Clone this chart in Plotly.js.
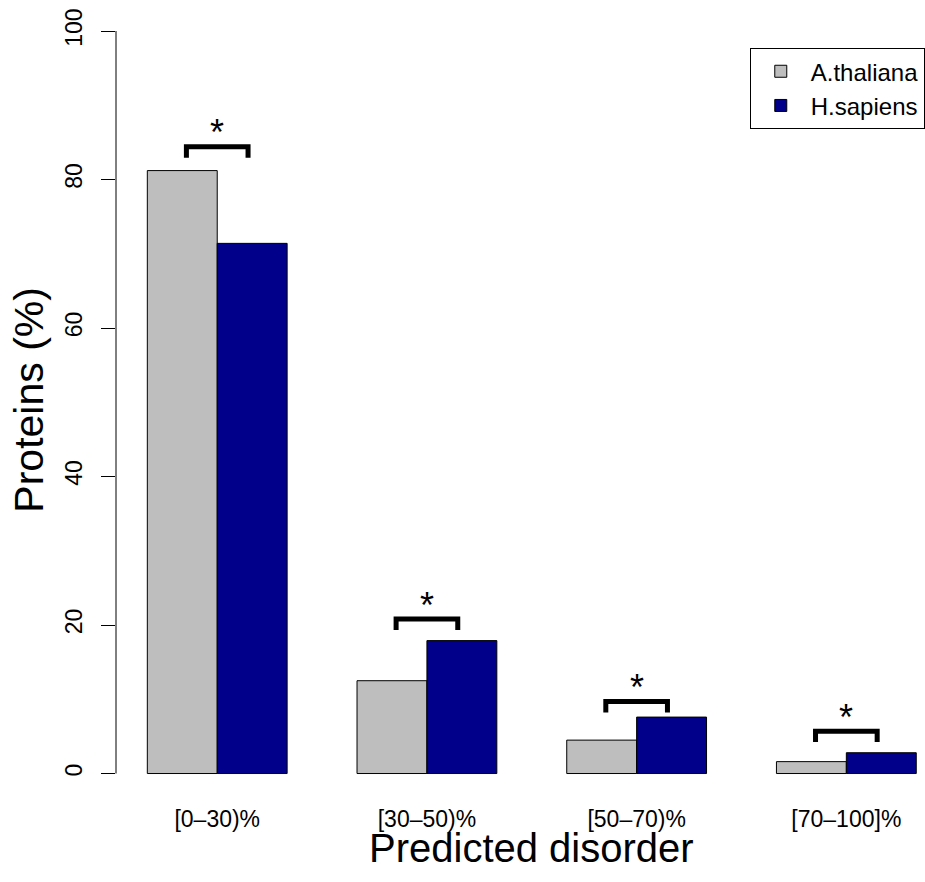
<!DOCTYPE html>
<html><head><meta charset="utf-8">
<script src="https://cdn.plot.ly/plotly-3.0.1.min.js"></script>
<style>html,body{margin:0;padding:0;background:#fff}</style>
</head><body><div id="chart" style="width:925px;height:882px"></div>
<script>
// ---- data ----
const categories = ['[0–30)%', '[30–50)%', '[50–70)%', '[70–100]%'];
const seriesNames = ['A.thaliana', 'H.sapiens'];
const athaliana = [81.2, 12.5, 4.5, 1.6];
const hsapiens = [71.4, 17.9, 7.6, 2.8];
const yTicks = [0, 20, 40, 60, 80, 100];
const sigLabels = ['*', '*', '*', '*'];
const sigHeights = [84.4, 20.8, 9.7, 5.7];
const xTitle = 'Predicted disorder';
const yTitle = 'Proteins (%)';

// ---- style ----
const FONT = 'Liberation Sans, Arial, Helvetica, sans-serif';
const colors = ['#BEBEBE', '#00008B'];
const bracketHalf = 0.147;   // in category units
const bracketLeg = 1.47;     // in y units

const traces = [athaliana, hsapiens].map((vals, k) => ({
  type: 'bar',
  name: seriesNames[k],
  x: categories,
  y: vals,
  marker: {color: colors[k], line: {color: '#000', width: 1}},
  hoverinfo: 'skip'
}));

const shapes = [{
  type: 'line', xref: 'paper', yref: 'y',
  x0: 0, x1: 0, y0: yTicks[0], y1: yTicks[yTicks.length - 1],
  line: {color: '#000', width: 1}
}];
const annotations = [];
categories.forEach((c, i) => {
  const yt = sigHeights[i], yb = yt - bracketLeg;
  const x0 = i - bracketHalf, x1 = i + bracketHalf;
  shapes.push({
    type: 'path', xref: 'x', yref: 'y',
    path: `M ${x0},${yb} L ${x0},${yt} L ${x1},${yt} L ${x1},${yb}`,
    line: {color: '#000', width: 5}
  });
  annotations.push({
    xref: 'x', yref: 'y', x: i, y: yt, text: sigLabels[i],
    showarrow: false, yanchor: 'middle', xanchor: 'center', yshift: 14,
    font: {family: FONT, size: 36, color: '#000'}
  });
});
annotations.push({
  xref: 'x', yref: 'paper', x: (categories.length - 1) / 2, y: -0.0555,
  text: xTitle, showarrow: false, xanchor: 'center', yanchor: 'middle',
  font: {family: FONT, size: 40, color: '#000'}
});
annotations.push({
  xref: 'paper', yref: 'paper', x: -0.1085, y: 0.5025,
  text: yTitle, showarrow: false, xanchor: 'center', yanchor: 'middle',
  textangle: -90,
  font: {family: FONT, size: 41, color: '#000'}
});

const layout = {
  width: 925, height: 882,
  margin: {l: 116, r: 0, t: 1, b: 79, pad: 0},
  paper_bgcolor: '#fff', plot_bgcolor: '#fff',
  font: {family: FONT, color: '#000', size: 23},
  barmode: 'group', bargap: 1/3, bargroupgap: 0,
  xaxis: {
    type: 'category', range: [-0.4827, 3.356],
    showline: false, showgrid: false, zeroline: false, ticks: '',
    tickfont: {family: FONT, size: 23, color: '#000'},
    ticklabelstandoff: 0
  },
  yaxis: {
    range: [-3.97, 104.04], tickvals: yTicks, ticktext: yTicks.map(String),
    showline: false, showgrid: false, zeroline: false,
    ticks: 'outside', ticklen: 14, tickwidth: 1, tickcolor: '#000',
    tickangle: -90, ticklabelstandoff: 10,
    tickfont: {family: FONT, size: 23, color: '#000'}
  },
  showlegend: true,
  legend: {
    x: 0.7873, y: 0.9412, xanchor: 'left', yanchor: 'top',
    bordercolor: '#000', borderwidth: 1, bgcolor: '#fff',
    font: {family: FONT, size: 24, color: '#000'},
    itemwidth: 50, traceorder: 'normal'
  },
  shapes: shapes,
  annotations: annotations,
  hovermode: false
};

Plotly.newPlot('chart', traces, layout, {staticPlot: true, displayModeBar: false});
</script>
</body></html>
